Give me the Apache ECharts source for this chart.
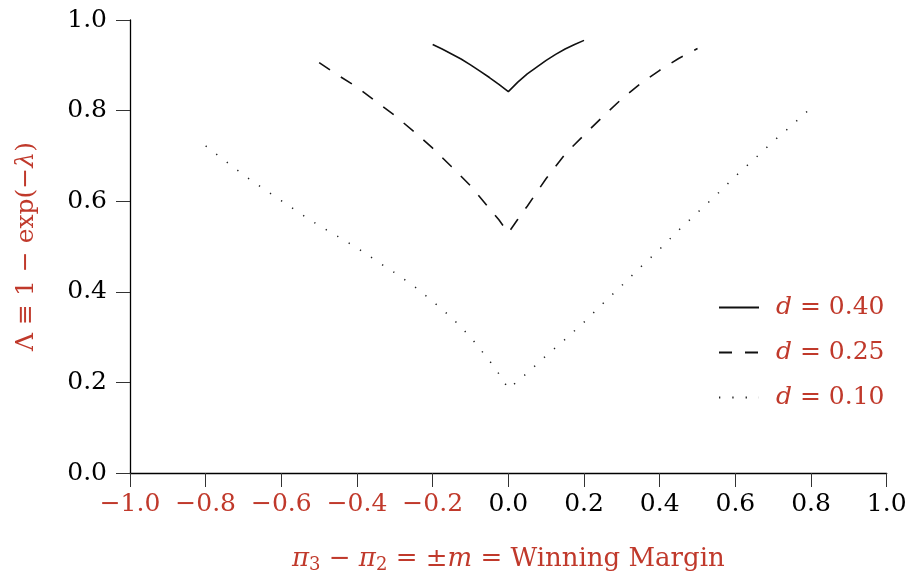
<!DOCTYPE html>
<html>
<head>
<meta charset="utf-8">
<script src="https://cdn.jsdelivr.net/npm/echarts@6/dist/echarts.min.js"></script>
<style>html,body{margin:0;padding:0;background:#fff;}#c{width:908px;height:575px;}</style>
</head>
<body>
<div id="c"></div>
<script>
// Winning margin (x) and Lambda (y)
const margin040 = [-0.20, -0.175, -0.15, -0.125, -0.10, -0.075, -0.05, -0.025, 0, 0.025, 0.05, 0.075, 0.10, 0.125, 0.15, 0.175, 0.20];
const lambda040 = [0.946, 0.936, 0.925, 0.914, 0.901, 0.887, 0.873, 0.858, 0.842, 0.863, 0.881, 0.896, 0.911, 0.924, 0.936, 0.946, 0.955];

const margin025 = [-0.50, -0.45, -0.40, -0.35, -0.30, -0.25, -0.20, -0.15, -0.10, -0.05, -0.025, 0, 0.025, 0.05, 0.10, 0.15, 0.20, 0.25, 0.30, 0.35, 0.40, 0.45, 0.50];
const lambda025 = [0.906, 0.878, 0.852, 0.820, 0.789, 0.754, 0.717, 0.676, 0.634, 0.584, 0.559, 0.530, 0.560, 0.589, 0.650, 0.704, 0.746, 0.787, 0.826, 0.860, 0.889, 0.915, 0.937];

const margin010 = [-0.80, -0.75, -0.70, -0.65, -0.60, -0.55, -0.50, -0.45, -0.40, -0.35, -0.30, -0.25, -0.20, -0.15, -0.10, -0.05, -0.025, 0, 0.025, 0.05, 0.10, 0.15, 0.20, 0.25, 0.30, 0.35, 0.40, 0.45, 0.50, 0.55, 0.60, 0.65, 0.70, 0.75, 0.80];
const lambda010 = [0.722, 0.690, 0.658, 0.629, 0.601, 0.573, 0.546, 0.522, 0.497, 0.469, 0.442, 0.413, 0.379, 0.343, 0.300, 0.248, 0.219, 0.186, 0.203, 0.221, 0.259, 0.295, 0.333, 0.374, 0.414, 0.455, 0.494, 0.536, 0.575, 0.614, 0.655, 0.693, 0.732, 0.768, 0.806];

const seriesNames = ['d = 0.40', 'd = 0.25', 'd = 0.10'];
const xTicks = { min: -1, max: 1, interval: 0.2 };
const yTicks = { min: 0, max: 1, interval: 0.2 };

const RED = '#c0392b';
const FONT = 'DejaVu Serif';

function pairs(xs, ys) { return xs.map((x, i) => [x, ys[i]]); }

const chart = echarts.init(document.getElementById('c'), null, { renderer: 'canvas' });
chart.setOption({
  animation: false,
  backgroundColor: '#fff',
  grid: { left: 130, right: 21.3, top: 20, bottom: 102, containLabel: false, outerBoundsMode: 'none' },
  xAxis: {
    type: 'value', min: xTicks.min, max: xTicks.max, interval: xTicks.interval,
    axisLine: { show: true, onZero: false, lineStyle: { color: '#000', width: 1.3 } },
    axisTick: { show: true, inside: false, length: 14, lineStyle: { color: '#333', width: 1 } },
    splitLine: { show: false },
    axisLabel: {
      margin: 19,
      formatter: function (v) {
        const r = Math.round(v * 10) / 10;
        if (r < 0) return '{n|\u2212' + Math.abs(r).toFixed(1) + '}';
        return '{p|' + r.toFixed(1) + '}';
      },
      rich: {
        n: { color: RED, fontFamily: FONT, fontSize: 25 },
        p: { color: '#000', fontFamily: FONT, fontSize: 25 }
      }
    },
    name: '{i|\u03c0}{s|3}{r| \u2212 }{i|\u03c0}{s|2}{r| = \u00b1}{i|m}{r| = Winning Margin}',
    nameLocation: 'middle', nameGap: 71,
    nameTextStyle: {
      color: RED, fontFamily: FONT, fontSize: 26,
      rich: {
        r: { color: RED, fontFamily: FONT, fontSize: 26, lineHeight: 30 },
        i: { color: RED, fontFamily: FONT, fontSize: 26, fontStyle: 'italic', lineHeight: 30 },
        s: { color: RED, fontFamily: FONT, fontSize: 18, lineHeight: 12, verticalAlign: 'bottom' }
      }
    }
  },
  yAxis: {
    type: 'value', min: yTicks.min, max: yTicks.max, interval: yTicks.interval,
    axisLine: { show: true, onZero: false, lineStyle: { color: '#000', width: 1.3 } },
    axisTick: { show: true, inside: false, length: 14, lineStyle: { color: '#333', width: 1 } },
    splitLine: { show: false },
    axisLabel: {
      margin: 23, color: '#000', fontFamily: FONT, fontSize: 25,
      formatter: v => (Math.round(v * 10) / 10).toFixed(1)
    },
    name: '{r|\u039b \u2261 1 \u2212 exp(\u2212}{i|\u03bb}{r|)}',
    nameLocation: 'middle', nameRotate: 90, nameGap: 91,
    nameTextStyle: {
      color: RED, fontFamily: FONT, fontSize: 25,
      rich: {
        r: { color: RED, fontFamily: FONT, fontSize: 25 },
        i: { color: RED, fontFamily: FONT, fontSize: 25, fontStyle: 'italic' }
      }
    }
  },
  legend: {
    orient: 'vertical', left: 713, top: 290,
    itemWidth: 40, itemHeight: 14, itemGap: 20,
    itemStyle: { opacity: 0 },
    formatter: function (name) {
      return '{i|d}{t|' + name.slice(1) + '}';
    },
    textStyle: {
      color: RED, fontFamily: FONT, fontSize: 25, padding: [0, 0, 0, 12],
      rich: {
        i: { color: RED, fontFamily: FONT, fontSize: 25, fontStyle: 'italic', lineHeight: 26 },
        t: { color: RED, fontFamily: FONT, fontSize: 25, lineHeight: 26 }
      }
    },
    data: seriesNames
  },
  series: [
    {
      name: seriesNames[0], type: 'line', data: pairs(margin040, lambda040),
      showSymbol: false, symbol: 'none',
      lineStyle: { color: '#111', width: 1.6, type: 'solid' },
      itemStyle: { color: '#111' }
    },
    {
      name: seriesNames[1], type: 'line', data: pairs(margin025, lambda025),
      showSymbol: false, symbol: 'none',
      lineStyle: { color: '#111', width: 1.6, type: [13, 13] },
      itemStyle: { color: '#111' }
    },
    {
      name: seriesNames[2], type: 'line', data: pairs(margin010, lambda010),
      showSymbol: false, symbol: 'none',
      lineStyle: { color: '#222', width: 1.5, type: [1.3, 12] },
      itemStyle: { color: '#222' }
    }
  ]
});
</script>
</body>
</html>
